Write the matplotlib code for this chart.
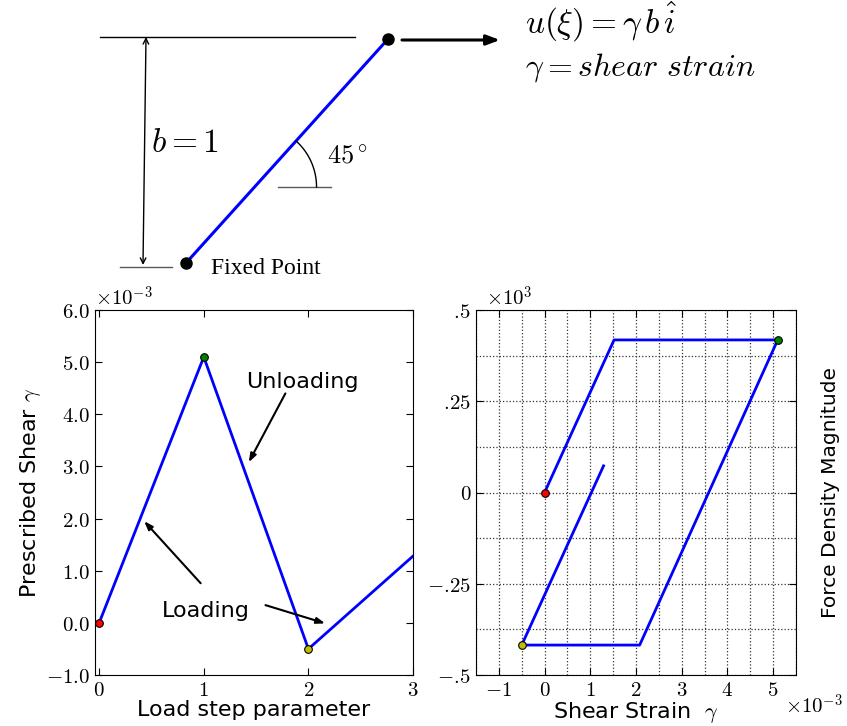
import numpy as np
import matplotlib
matplotlib.use("Agg")
import matplotlib.pyplot as plt
from matplotlib.ticker import FuncFormatter, MultipleLocator

plt.rcParams['mathtext.fontset'] = 'cm'
plt.rcParams['font.family'] = 'DejaVu Sans'
plt.rcParams['xtick.direction'] = 'in'
plt.rcParams['ytick.direction'] = 'in'
plt.rcParams['xtick.top'] = True
plt.rcParams['ytick.right'] = True
plt.rcParams['xtick.major.size'] = 5
plt.rcParams['ytick.major.size'] = 5
plt.rcParams['xtick.minor.size'] = 0
plt.rcParams['ytick.minor.size'] = 0

# load history: load step vs prescribed shear
load_step = [0, 1, 2, 3]
shear = [0.0, 5.1e-3, -0.5e-3, 1.28e-3]
marker_colors = ['r', 'g', 'y']

# force density response vs shear strain
strain = [0.0, 1.52e-3, 5.1e-3, 2.08e-3, -0.5e-3, 1.29e-3]
force = [0.0, 418.0, 418.0, -418.0, -418.0, 73.0]
key_idx = [0, 2, 4]

# schematic geometry (pixel-like units of the top panel)
fixed_pt = (186, 263)
moving_pt = (388, 39)
top_line = ([100, 355], [37, 37])
base_line = ([120, 172], [267, 267])
angle_line = ([278, 331], [187, 187])

fig = plt.figure(figsize=(8.47, 7.26), dpi=100)
fig.patch.set_facecolor('white')

# ---- schematic ----
sk = fig.add_axes([0, 1 - 285 / 726, 1, 285 / 726])
sk.set_xlim(0, 847)
sk.set_ylim(285, 0)
sk.axis('off')
sk.plot(*top_line, color='k', lw=1.0)
sk.plot(*base_line, color='0.35', lw=1.0)
sk.plot(*angle_line, color='0.35', lw=1.0)
sk.annotate('', xy=(143, 265), xytext=(146, 37),
            arrowprops=dict(arrowstyle='<->', color='k', lw=1.0,
                            shrinkA=0, shrinkB=0))
sk.plot([fixed_pt[0], moving_pt[0]], [fixed_pt[1], moving_pt[1]],
        color='#0000ff', lw=2.2, solid_capstyle='round')
sk.plot(*zip(fixed_pt, moving_pt), 'o', color='k', ms=8, ls='none')
sk.annotate('', xy=(500, 40), xytext=(402, 40),
            arrowprops=dict(arrowstyle='-|>,head_length=0.8,head_width=0.3',
                            color='k', lw=2.2, shrinkA=0, shrinkB=0))

# angle arc at the slanted line
cx = fixed_pt[0] + (fixed_pt[1] - 187) * (moving_pt[0] - fixed_pt[0]) / (fixed_pt[1] - moving_pt[1])
ang = np.arctan2(fixed_pt[1] - moving_pt[1], moving_pt[0] - fixed_pt[0])
th = np.linspace(0, ang, 40)
r = 62
sk.plot(cx + r * np.cos(th), 187 - r * np.sin(th), color='k', lw=1.0)

sk.text(525, 22, r'$u(\xi) = \gamma\, b\, \hat{i}$', fontsize=24, va='center')
sk.text(525, 68, r'$\gamma = shear\ strain$', fontsize=23, va='center')
sk.text(151, 142, r'$b = 1$', fontsize=24, va='center')
sk.text(327, 157, r'$45^\circ$', fontsize=19, va='center')
sk.text(211, 268, 'Fixed Point', fontsize=17, va='center',
        family='Liberation Serif')

# ---- load history ----
ax1 = fig.add_axes([95 / 847, 1 - 675 / 726, 318 / 847, 365 / 726])
ax1.plot(load_step, shear, color='#0000ff', lw=2)
for i, c in enumerate(marker_colors):
    ax1.plot(load_step[i], shear[i], 'o', color=c, mec='k', mew=0.8, ms=5.5,
             zorder=5)
ax1.set_xlim(-0.04, 3)
ax1.set_ylim(-1e-3, 6e-3)
ax1.xaxis.set_major_locator(MultipleLocator(1))
ax1.yaxis.set_major_locator(MultipleLocator(1e-3))
ax1.xaxis.set_major_formatter(FuncFormatter(lambda v, p: r'$%d$' % round(v)))
ax1.yaxis.set_major_formatter(FuncFormatter(lambda v, p: r'$%.1f$' % (v * 1e3)))
ax1.tick_params(labelsize=15)
ax1.text(0.0, 1.0, r'$\times10^{-3}$', transform=ax1.transAxes, fontsize=15,
         va='bottom', ha='left')
ax1.set_xlabel('Load step parameter', fontsize=16, labelpad=0)
ax1.set_ylabel(r'Prescribed Shear $\gamma$', fontsize=16, labelpad=2)

arrow_kw = dict(arrowstyle='-|>,head_length=0.5,head_width=0.18', color='k',
                lw=1.5, shrinkA=0, shrinkB=0)
ax1.text(1.94, 4.62e-3, 'Unloading', fontsize=16, ha='center', va='center')
ax1.annotate('', xy=(1.43, 3.08e-3), xytext=(1.78, 4.4e-3), arrowprops=arrow_kw)
ax1.text(1.02, 0.22e-3, 'Loading', fontsize=16, ha='center', va='center')
ax1.annotate('', xy=(0.43, 1.95e-3), xytext=(0.97, 0.76e-3), arrowprops=arrow_kw)
ax1.annotate('', xy=(2.16, -0.01e-3), xytext=(1.59, 0.34e-3), arrowprops=arrow_kw)

# ---- force density vs shear strain ----
ax2 = fig.add_axes([476 / 847, 1 - 675 / 726, 320 / 847, 365 / 726])
ax2.plot(strain, force, color='#0000ff', lw=2, zorder=3)
for i, c in zip(key_idx, marker_colors):
    ax2.plot(strain[i], force[i], 'o', color=c, mec='k', mew=0.8, ms=5.5,
             zorder=5)
ax2.set_xlim(-1.5e-3, 5.5e-3)
ax2.set_ylim(-500, 500)
ax2.xaxis.set_major_locator(MultipleLocator(1e-3))
ax2.xaxis.set_minor_locator(MultipleLocator(0.5e-3))
ax2.yaxis.set_major_locator(MultipleLocator(250))
ax2.yaxis.set_minor_locator(MultipleLocator(125))


def frac_label(v, p):
    s = '%g' % (v / 1000)
    if s == '0':
        return r'$0$'
    s = s.replace('0.', '.').replace('.', r'.\!')
    return r'$%s$' % s


ax2.xaxis.set_major_formatter(FuncFormatter(lambda v, p: r'$%d$' % round(v * 1e3)))
ax2.yaxis.set_major_formatter(FuncFormatter(frac_label))
ax2.grid(True, which='both', color='0.2', ls=':', lw=0.9)
ax2.set_axisbelow(True)
ax2.tick_params(labelsize=15)
ax2.text(0.03, 1.0, r'$\times10^{3}$', transform=ax2.transAxes, fontsize=15,
         va='bottom', ha='left')
fig.text(843 / 847, 1 - 706 / 726, r'$\times10^{-3}$', fontsize=15,
         va='center', ha='right')
ax2.set_xlabel(r'Shear Strain  $\gamma$', fontsize=16, labelpad=0)
ax2.yaxis.set_label_position('right')
ax2.set_ylabel('Force Density Magnitude', fontsize=14.5, labelpad=18)

fig.savefig('out.png', dpi=100, facecolor='white')
